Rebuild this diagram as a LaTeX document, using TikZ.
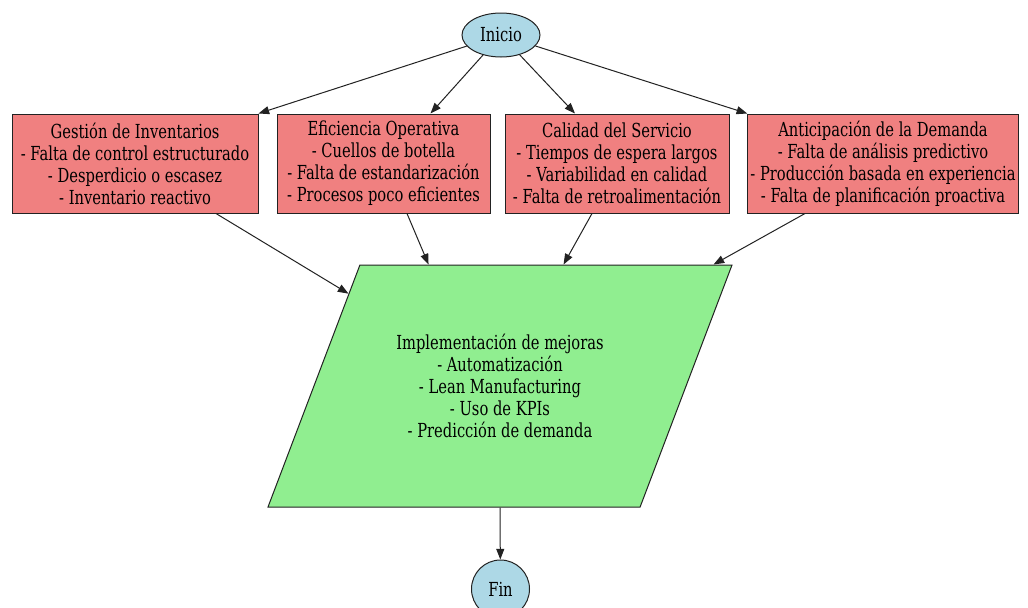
\documentclass[tikz,border=0pt]{standalone}
\usepackage{fontspec}
\setmainfont{DejaVu Serif}[FakeStretch=0.76]
\usepackage{xcolor}
\definecolor{termBlue}{HTML}{ADD8E6}
\definecolor{issueCoral}{HTML}{F08080}
\definecolor{planGreen}{HTML}{90EE90}
\definecolor{edgeGray}{HTML}{222222}
\usepackage{tikz}
\usetikzlibrary{arrows.meta,shapes.geometric,calc}

\begin{document}
\begin{tikzpicture}[
  x=0.75pt, y=-0.75pt,
  font=\fontsize{14.5}{16.5}\selectfont,
  term/.style={ellipse,draw=edgeGray,fill=termBlue,inner sep=0pt,line width=0.75pt},
  issue/.style={rectangle,draw=edgeGray,fill=issueCoral,align=center,
                minimum height=74.25pt,inner sep=2pt,line width=0.75pt},
  plan/.style={trapezium,trapezium left angle=57.8,trapezium right angle=122.2,
               trapezium stretches=true,draw=edgeGray,fill=planGreen,align=center,
               minimum width=349.5pt,minimum height=181.5pt,line width=0.75pt},
  arc/.style={-{Triangle[length=8pt,width=6pt]},edgeGray,line width=0.75pt}
]
\clip (0,0) rectangle (1028,607);
\fill[white] (0,0) rectangle (1028,607);

% nodes
\node[term, minimum width=58.5pt, minimum height=33pt] (inicio) at (501,35) {Inicio};
\node[issue, minimum width=184.5pt] (inv) at (135,163.5)
  {Gestión de Inventarios\\- Falta de control estructurado\\- Desperdicio o escasez\\- Inventario reactivo};
\node[issue, minimum width=159.75pt] (efi) at (383.5,163.5)
  {Eficiencia Operativa\\- Cuellos de botella\\- Falta de estandarización\\- Procesos poco eficientes};
\node[issue, minimum width=168pt] (cal) at (617,163.5)
  {Calidad del Servicio\\- Tiempos de espera largos\\- Variabilidad en calidad\\- Falta de retroalimentación};
\node[issue, minimum width=202.5pt] (ant) at (883,163.5)
  {Anticipación de la Demanda\\- Falta de análisis predictivo\\- Producción basada en experiencia\\- Falta de planificación proactiva};
\node[plan] (mejoras) at (500,386)
  {Implementación de mejoras\\- Automatización\\- Lean Manufacturing\\- Uso de KPIs\\- Predicción de demanda};
\node[term, minimum size=43.5pt] (fin) at (500.5,589) {Fin};

% arrows
\draw[arc] (inicio) -- (inv.north east);
\draw[arc] (inicio) -- ($(efi.north)+(47,0)$);
\draw[arc] (inicio) -- ($(cal.north)+(-42,0)$);
\draw[arc] (inicio) -- (ant.north west);
\draw[arc] ($(inv.south)+(81,0)$) -- ($(mejoras.top left corner)!0.12!(mejoras.bottom left corner)$);
\draw[arc] ($(efi.south)+(23.5,0)$) -- ($(mejoras.top left corner)+(69,0)$);
\draw[arc] ($(cal.south)+(-25,0)$) -- ($(mejoras.top left corner)+(204,0)$);
\draw[arc] ($(ant.south)+(-78,0)$) -- ($(mejoras.top left corner)+(354,0)$);
\draw[arc] (mejoras.center |- mejoras.bottom side) -- (fin);
\end{tikzpicture}
\end{document}
